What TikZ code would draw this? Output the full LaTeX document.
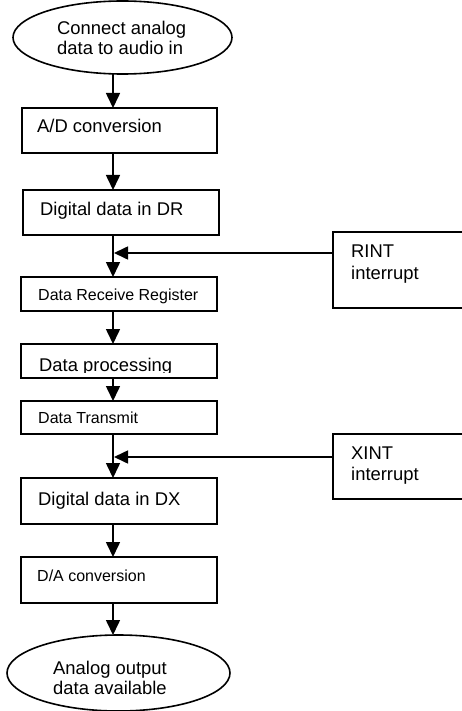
\documentclass[tikz,border=0pt]{standalone}
\usepackage{fontspec}
\setmainfont{Liberation Sans}
\usetikzlibrary{arrows.meta,shapes.geometric}
\begin{document}
\begin{tikzpicture}[x=1pt,y=-1pt,
  box/.style={draw,line width=1.6pt,rectangle,inner sep=0pt,outer sep=0pt},
  oval/.style={draw,line width=1.6pt,ellipse,inner sep=0pt,outer sep=0pt},
  big/.style={font=\fontsize{18.4}{20.5}\selectfont,inner sep=0pt,anchor=base west},
  small/.style={font=\fontsize{16}{19}\selectfont,inner sep=0pt,anchor=base west},
  arr/.style={line width=1.6pt,-{Triangle[length=15pt,width=14pt]}},
  harr/.style={line width=1.6pt,-{Triangle[length=14pt,width=13pt]}}]
\useasboundingbox (0,0) rectangle (461,711);
% shapes
\node[oval,minimum width=219pt,minimum height=73pt] (e1) at (122.5,37.5) {};
\node[box,minimum width=195pt,minimum height=45pt] (ad) at (119.5,130.5) {};
\node[box,minimum width=196pt,minimum height=45pt] (dr) at (121,212.5) {};
\node[box,minimum width=196pt,minimum height=34pt] (drr) at (119,294) {};
\node[box,minimum width=196pt,minimum height=34pt] (dp) at (119,361) {};
\node[box,minimum width=196pt,minimum height=33pt] (dt) at (119,417.5) {};
\node[box,minimum width=196pt,minimum height=46pt] (dx) at (119,501) {};
\node[box,minimum width=196pt,minimum height=46pt] (da) at (119,580) {};
\node[oval,minimum width=223pt,minimum height=76pt] (e2) at (118.5,673) {};
\node[box,minimum width=130pt,minimum height=76pt] (rint) at (398,270) {};
\node[box,minimum width=130pt,minimum height=65pt] (xint) at (398,466.5) {};
% texts
\node[big] (t1a) at (57,34.5) {Connect analog};
\node[big] (t1b) at (57,54.5) {data to audio in};
\node[big] (tad) at (37,133) {A/D conversion};
\node[big] (tdr) at (40,215) {Digital data in DR};
\node[small] (tdrr) at (38,300) {Data Receive Register};
\begin{scope}
\clip (21,344) rectangle (217,372);
\node[big] (tdp) at (39,371) {Data processing};
\end{scope}
\node[small] (tdt) at (38,423) {Data Transmit};
\node[big] (tdx) at (38,505) {Digital data in DX};
\node[small] (tda) at (37,581) {D/A conversion};
\node[big] (t2a) at (53,674.5) {Analog output};
\node[big] (t2b) at (53,694) {data available};
\node[big] (tr1) at (351,257) {RINT};
\node[big] (tr2) at (351,279) {interrupt};
\node[big] (tx1) at (351,459) {XINT};
\node[big] (tx2) at (351,480) {interrupt};
% connectors
\coordinate (col) at (113,0);
\draw[arr] (col |- e1.south) -- (col |- ad.north);
\draw[arr] (col |- ad.south) -- (col |- dr.north);
\draw[arr] (col |- dr.south) -- (col |- drr.north);
\draw[arr] (col |- drr.south) -- (col |- dp.north);
\draw[arr] (col |- dp.south) -- (col |- dt.north);
\draw[arr] (col |- dt.south) -- (col |- dx.north);
\draw[arr] (col |- dx.south) -- (col |- da.north);
\draw[arr] (col |- da.south) -- (col |- e2.north);
\coordinate (rj) at (114,253);
\coordinate (xj) at (114,457);
\draw[harr] (rint.west |- rj) -- (rj);
\draw[harr] (xint.west |- xj) -- (xj);
\end{tikzpicture}
\end{document}
